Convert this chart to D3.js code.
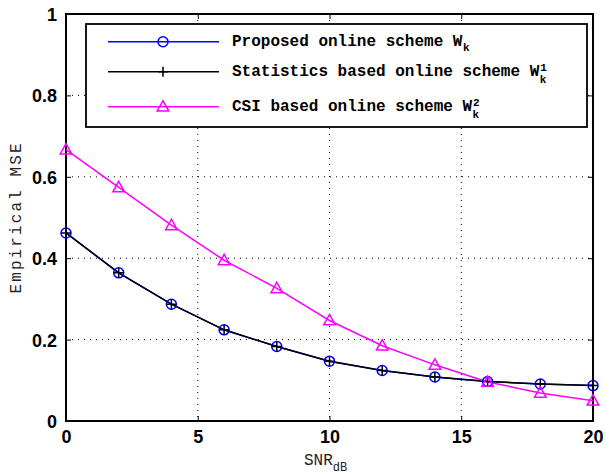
<!DOCTYPE html>
<html><head><meta charset="utf-8">
<script src="https://cdn.jsdelivr.net/npm/d3@7"></script>
<style>body{margin:0;background:#fff}svg{display:block}</style>
</head><body>
<svg id="chart" width="606" height="476"></svg>
<script>
const snr = [0, 2, 4, 6, 8, 10, 12, 14, 16, 18, 20];
const proposed = [0.462, 0.364, 0.287, 0.224, 0.183, 0.147, 0.124, 0.108, 0.097, 0.091, 0.087];
const statistics = [0.462, 0.364, 0.287, 0.224, 0.183, 0.147, 0.124, 0.108, 0.097, 0.091, 0.087];
const csi = [0.667, 0.574, 0.481, 0.395, 0.326, 0.247, 0.185, 0.138, 0.096, 0.069, 0.050];
const xTicks = [0, 5, 10, 15, 20];
const yTicks = [0, 0.2, 0.4, 0.6, 0.8, 1];
const yTickLabels = ["0", "0.2", "0.4", "0.6", "0.8", "1"];
const legendLabels = ["Proposed online scheme W", "Statistics based online scheme W", "CSI based online scheme W"];

const svg = d3.select("#chart");
const L = 66, R = 593, T = 14, B = 421;
const x = d3.scaleLinear().domain([0, 20]).range([L, R]);
const y = d3.scaleLinear().domain([0, 1]).range([B, T]);

// grid
const grid = svg.append("g");
xTicks.slice(1, -1).forEach(t => grid.append("line").attr("x1", x(t)).attr("x2", x(t)).attr("y1", T).attr("y2", B)
  .attr("stroke", "#000").attr("stroke-width", 1).attr("stroke-dasharray", "1,5"));
yTicks.slice(1, -1).forEach(t => grid.append("line").attr("y1", y(t)).attr("y2", y(t)).attr("x1", L).attr("x2", R)
  .attr("stroke", "#000").attr("stroke-width", 1).attr("stroke-dasharray", "1,5"));

// axes with inner ticks
const tickFont = "bold 18px 'Liberation Sans', Arial, sans-serif";
const xAxis = svg.append("g").attr("transform", `translate(0,${B})`)
  .call(d3.axisBottom(x).tickValues(xTicks).tickSizeInner(-5).tickSizeOuter(0).tickPadding(10).tickFormat(d3.format("d")));
const xAxisTop = svg.append("g").attr("transform", `translate(0,${T})`)
  .call(d3.axisTop(x).tickValues(xTicks).tickSizeInner(-5).tickSizeOuter(0).tickFormat(""));
const yAxis = svg.append("g").attr("transform", `translate(${L},0)`)
  .call(d3.axisLeft(y).tickValues(yTicks).tickSizeInner(-5).tickSizeOuter(0).tickPadding(9).tickFormat((d, i) => yTickLabels[i]));
const yAxisR = svg.append("g").attr("transform", `translate(${R},0)`)
  .call(d3.axisRight(y).tickValues(yTicks).tickSizeInner(-5).tickSizeOuter(0).tickFormat(""));
[xAxis, xAxisTop, yAxis, yAxisR].forEach(g => {
  g.select(".domain").remove();
  g.selectAll("line").attr("stroke", "#000").attr("stroke-width", 1);
  g.selectAll("text").style("font", tickFont).attr("fill", "#000");
});
xAxis.selectAll("text").attr("dy", "0.71em").attr("y", 9);
yAxis.selectAll("text").attr("dy", "0.36em");

svg.append("rect").attr("x", L).attr("y", T).attr("width", R - L).attr("height", B - T)
  .attr("fill", "none").attr("stroke", "#000").attr("stroke-width", 2);

// series
const line = d3.line().x((d, i) => x(snr[i])).y(d => y(d));
const plot = svg.append("g");
plot.append("path").datum(proposed).attr("d", line).attr("fill", "none").attr("stroke", "#0000ff").attr("stroke-width", 1.5);
plot.append("path").datum(statistics).attr("d", line).attr("fill", "none").attr("stroke", "#000").attr("stroke-width", 1.5);
plot.append("path").datum(csi).attr("d", line).attr("fill", "none").attr("stroke", "#ff00ff").attr("stroke-width", 1.5);

const circlePath = "M5,0A5,5 0 1,1 -5,0A5,5 0 1,1 5,0Z";
const plusPath = "M-5,0H5M0,-5V5";
const triPath = "M0,-6L5.8,4.4L-5.8,4.4Z";
function markers(vals, p, color) {
  plot.selectAll(null).data(vals).enter().append("path")
    .attr("transform", (d, i) => `translate(${x(snr[i])},${y(d)})`)
    .attr("d", p).attr("fill", "none").attr("stroke", color).attr("stroke-width", 1.5);
}
markers(proposed, circlePath, "#0000ff");
markers(statistics, plusPath, "#000");
markers(csi, triPath, "#ff00ff");

// legend
const lg = svg.append("g");
lg.append("rect").attr("x", 86).attr("y", 24).attr("width", 501).attr("height", 103)
  .attr("fill", "#fff").attr("stroke", "#000").attr("stroke-width", 1.8);
const rowsY = [41.7, 71.7, 106.7];
const colors = ["#0000ff", "#000", "#ff00ff"];
const mpaths = [circlePath, plusPath, triPath];
const legFont = "bold 16px 'Liberation Mono', 'Courier New', monospace";
const subFont = "bold 11px 'Liberation Mono', 'Courier New', monospace";
const sups = [null, "1", "2"];
rowsY.forEach((ry, i) => {
  lg.append("line").attr("x1", 108).attr("x2", 219).attr("y1", ry).attr("y2", ry)
    .attr("stroke", colors[i]).attr("stroke-width", 1.5);
  lg.append("path").attr("transform", `translate(163,${ry})`).attr("d", mpaths[i])
    .attr("fill", "none").attr("stroke", colors[i]).attr("stroke-width", 1.5);
  const t = lg.append("text").attr("x", 232).attr("y", ry + 4).style("font", legFont).attr("fill", "#000")
    .text(legendLabels[i]);
  const w = t.node().getComputedTextLength();
  lg.append("text").attr("x", 232 + w + 0.5).attr("y", ry + (sups[i] ? 11.5 : 9)).style("font", subFont).attr("fill", "#000").text("k");
  if (sups[i]) lg.append("text").attr("x", 232 + w + 1).attr("y", ry - 0.5).style("font", subFont).attr("fill", "#000").text(sups[i]);
});

// axis labels
svg.append("text").attr("transform", "translate(20.5,218.5) rotate(-90)").attr("text-anchor", "middle")
  .style("font", "16px 'Liberation Mono', 'Courier New', monospace").attr("fill", "#222")
  .attr("textLength", 150).attr("lengthAdjust", "spacing").text("Empirical MSE");
const xl = svg.append("text").attr("x", 304).attr("y", 465).style("font", "16px 'Liberation Mono', 'Courier New', monospace").attr("fill", "#222");
xl.append("tspan").text("SNR");
xl.append("tspan").attr("dy", 6).style("font-size", "12px").text("dB");
</script>
</body></html>
